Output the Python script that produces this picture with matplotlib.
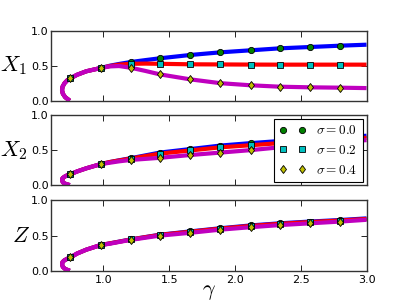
import numpy as np
import matplotlib
matplotlib.use("Agg")
import matplotlib.pyplot as plt

plt.rcParams['mathtext.fontset'] = 'cm'
plt.rcParams['font.family'] = ['DejaVu Sans']

# lower branch (shared by all sigma)
low_gamma = [0.745, 0.71, 0.692, 0.686, 0.69, 0.705, 0.725, 0.75, 0.80, 0.87, 0.98]
low_x1 = [0.0, 0.05, 0.10, 0.15, 0.20, 0.25, 0.29, 0.32, 0.37, 0.42, 0.467]
low_x2 = [0.0, 0.02, 0.04, 0.075, 0.10, 0.12, 0.14, 0.155, 0.195, 0.24, 0.30]
low_z = [0.0, 0.025, 0.055, 0.095, 0.125, 0.15, 0.17, 0.19, 0.245, 0.30, 0.366]

# upper branch
up_gamma = [0.98, 1.05, 1.12, 1.21, 1.32, 1.43, 1.66, 1.89, 2.12, 2.34, 2.57, 2.80, 3.0]
x1_s0 = [0.467, 0.50, 0.525, 0.553, 0.58, 0.606, 0.653, 0.691, 0.72, 0.748, 0.767, 0.786, 0.80]
x1_s2 = [0.467, 0.495, 0.515, 0.527, 0.53, 0.527, 0.52, 0.518, 0.516, 0.515, 0.515, 0.515, 0.515]
x1_s4 = [0.467, 0.49, 0.495, 0.47, 0.425, 0.376, 0.305, 0.25, 0.22, 0.20, 0.191, 0.186, 0.18]
x2_s0 = [0.30, 0.33, 0.355, 0.385, 0.425, 0.465, 0.515, 0.565, 0.60, 0.63, 0.66, 0.685, 0.705]
x2_s2 = [0.30, 0.33, 0.352, 0.38, 0.415, 0.45, 0.495, 0.54, 0.57, 0.60, 0.63, 0.655, 0.676]
x2_s4 = [0.30, 0.32, 0.34, 0.36, 0.375, 0.39, 0.43, 0.465, 0.50, 0.54, 0.58, 0.615, 0.643]
z_s0 = [0.366, 0.39, 0.415, 0.447, 0.48, 0.513, 0.56, 0.605, 0.645, 0.675, 0.70, 0.722, 0.745]
z_s2 = [0.366, 0.39, 0.413, 0.445, 0.478, 0.51, 0.555, 0.60, 0.638, 0.668, 0.693, 0.715, 0.737]
z_s4 = [0.36, 0.385, 0.41, 0.44, 0.47, 0.50, 0.54, 0.585, 0.62, 0.65, 0.675, 0.70, 0.725]

# simulation points
pt_gamma = [0.75, 0.98, 1.21, 1.43, 1.66, 1.89, 2.12, 2.34, 2.57, 2.80]
pt_x1_s0 = [0.32, 0.467, 0.553, 0.606, 0.653, 0.691, 0.72, 0.748, 0.767, 0.786]
pt_x1_s2 = [0.32, 0.467, 0.527, 0.527, 0.52, 0.518, 0.516, 0.515, 0.515, 0.515]
pt_x1_s4 = [0.32, 0.467, 0.47, 0.376, 0.305, 0.25, 0.22, 0.20, 0.191, 0.186]
pt_x2_s0 = [0.155, 0.30, 0.385, 0.465, 0.515, 0.565, 0.60, 0.63, 0.66, 0.685]
pt_x2_s2 = [0.155, 0.30, 0.38, 0.45, 0.495, 0.54, 0.57, 0.60, 0.63, 0.655]
pt_x2_s4 = [0.155, 0.30, 0.36, 0.39, 0.43, 0.465, 0.50, 0.54, 0.58, 0.615]
pt_z_s0 = [0.19, 0.366, 0.447, 0.513, 0.56, 0.605, 0.645, 0.675, 0.70, 0.722]
pt_z_s2 = [0.19, 0.366, 0.445, 0.51, 0.555, 0.60, 0.638, 0.668, 0.693, 0.715]
pt_z_s4 = [0.19, 0.36, 0.44, 0.50, 0.54, 0.585, 0.62, 0.65, 0.675, 0.70]

sigmas = ['0.0', '0.2', '0.4']
line_colors = ['#0000ff', '#ff0000', '#bf00bf']
mark_colors = ['#008000', '#00bfbf', '#bfbf00']
mark_shapes = ['o', 's', 'd']

panels = [
    (r'$X_1$', low_x1, [x1_s0, x1_s2, x1_s4], [pt_x1_s0, pt_x1_s2, pt_x1_s4]),
    (r'$X_2$', low_x2, [x2_s0, x2_s2, x2_s4], [pt_x2_s0, pt_x2_s2, pt_x2_s4]),
    (r'$Z$', low_z, [z_s0, z_s2, z_s4], [pt_z_s0, pt_z_s2, pt_z_s4]),
]

fig = plt.figure(figsize=(4.07, 3.07), dpi=100)
boxes = [(0.1246, 0.672, 0.776, 0.228),
         (0.1246, 0.397, 0.776, 0.228),
         (0.1246, 0.118, 0.776, 0.229)]
label_x = [-0.117, -0.117, -0.095]

for i, (name, low, ups, pts) in enumerate(panels):
    ax = fig.add_axes(boxes[i])
    for k in range(3):
        g = low_gamma + up_gamma[1:]
        v = low + ups[k][1:]
        ax.plot(g, v, color=line_colors[k], lw=3, solid_capstyle='butt', zorder=2)
    for k in range(3):
        ax.plot(pt_gamma, pts[k], ls='none', marker=mark_shapes[k],
                color=mark_colors[k], mec='k', mew=0.6, ms=4.5,
                label=r'$\sigma=' + sigmas[k] + '$', zorder=3)
    ax.set_xlim(0.6, 3.0)
    ax.set_ylim(0.0, 1.0)
    ax.set_yticks([0.0, 0.5, 1.0])
    ax.set_xticks([1.0, 1.5, 2.0, 2.5, 3.0])
    ax.tick_params(direction='in', top=True, right=True, length=4, width=0.6,
                   labelsize=8)
    ax.tick_params(axis='y', pad=1.5)
    ax.tick_params(axis='x', pad=3)
    for s in ax.spines.values():
        s.set_linewidth(1.0)
        s.set_color('#333333')
    ax.set_ylabel(name, fontsize=16, rotation=0, ha='center', va='center')
    ax.yaxis.set_label_coords(label_x[i], 0.5)
    if i < 2:
        ax.set_xticklabels([])
    else:
        ax.set_xlabel(r'$\gamma$', fontsize=16, labelpad=-2)
    if i == 1:
        leg = ax.legend(loc='upper right', numpoints=2, fontsize=9.5,
                        fancybox=False, framealpha=1, edgecolor='k',
                        borderaxespad=0.3, handlelength=2.0)
        leg.get_frame().set_linewidth(0.8)

fig.savefig('out.png', dpi=100)
